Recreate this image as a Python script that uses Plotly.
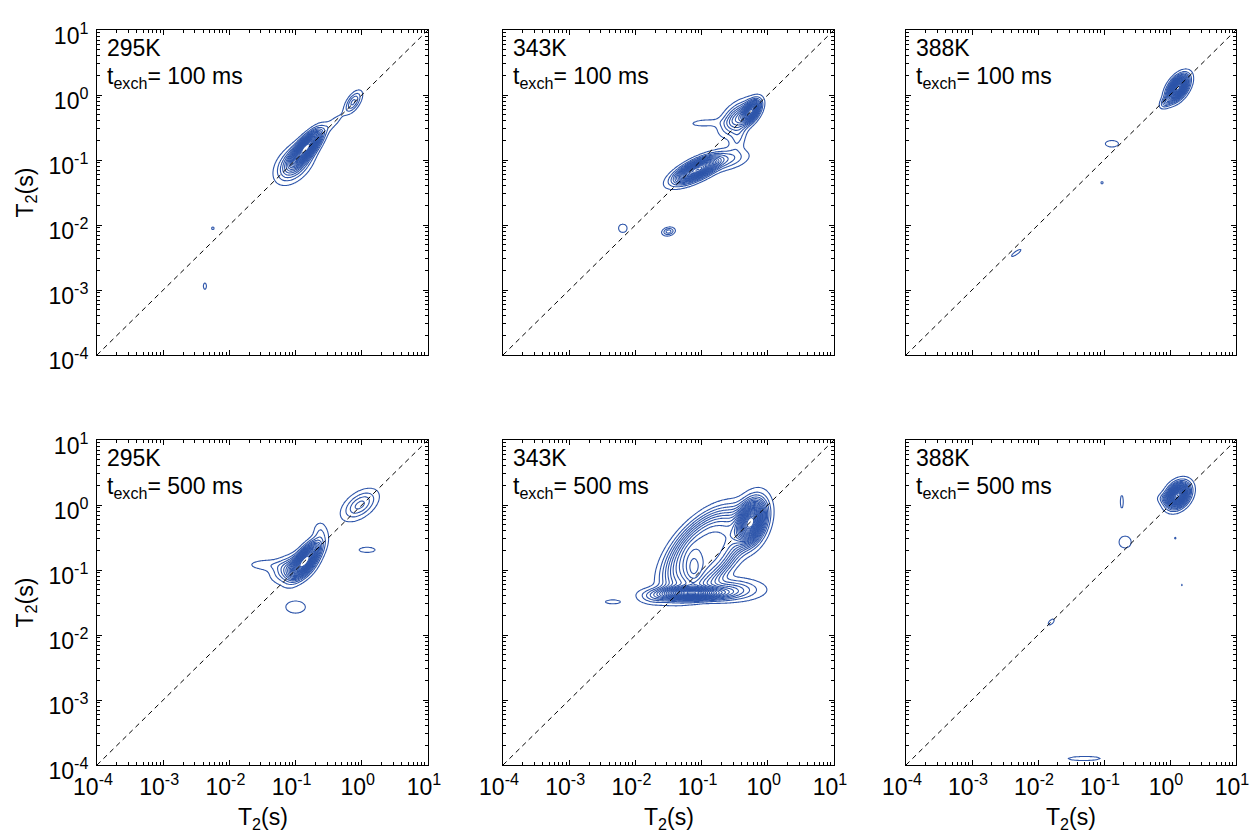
import numpy as np
import plotly.graph_objects as go

# ---------------------------------------------------------------------------
# Panel captions
TEMPERATURES = ["295K", "343K", "388K", "295K", "343K", "388K"]
EXCHANGE_TIMES = ["100 ms", "100 ms", "100 ms", "500 ms", "500 ms", "500 ms"]

# Axis ticks (seconds)
DECADES = [1e-4, 1e-3, 1e-2, 1e-1, 1e0, 1e1]
DECADE_LABELS = ["10<sup>-4</sup>", "10<sup>-3</sup>", "10<sup>-2</sup>",
                 "10<sup>-1</sup>", "10<sup>0</sup>", "10<sup>1</sup>"]
MINOR_STEPS = [2, 3, 4, 5, 6, 7, 8, 9]

# T2-T2 exchange map components, one list per panel:
# (log10 T2 axis-1, log10 T2 axis-2, amplitude, width-1, width-2, correlation, flatness)
PEAKS_295K_100MS = [
    (-0.83, -0.80, 1.00, 0.13, 0.15, 0.75, 1),
    (-1.02, -1.05, 0.30, 0.16, 0.17, 0.45, 1),
    (-0.13, -0.11, 0.20, 0.08, 0.105, 0.60, 1),
    (-0.42, -0.42, 0.06, 0.10, 0.10, 0.80, 1),
    (-2.25, -2.05, 0.05, 0.03, 0.03, 0.0, 1),
    (-2.37, -2.94, 0.055, 0.03, 0.06, 0.0, 1),
]
PEAKS_343K_100MS = [
    (-0.25, -0.25, 0.85, 0.08, 0.10, 0.50, 1),
    (-0.45, -0.35, 0.35, 0.15, 0.15, 0.50, 1),
    (-1.07, -1.15, 1.00, 0.20, 0.12, 0.70, 1),
    (-0.60, -1.00, 0.14, 0.20, 0.10, 0.40, 1),
    (-0.45, -0.65, 0.10, 0.08, 0.15, 0.30, 1),
    (-0.95, -0.43, 0.06, 0.20, 0.05, 0.20, 1),
    (-2.19, -2.05, 0.055, 0.08, 0.08, 0.0, 1),
    (-1.50, -2.10, 0.18, 0.06, 0.04, 0.20, 1),
]
PEAKS_388K_100MS = [
    (0.12, 0.11, 1.00, 0.09, 0.11, 0.50, 1),
    (-0.05, -0.10, 0.15, 0.06, 0.06, 0.50, 1),
    (-0.88, -0.75, 0.045, 0.11, 0.055, 0.0, 1),
    (-1.03, -1.35, 0.036, 0.03, 0.03, 0.0, 1),
    (-2.33, -2.43, 0.045, 0.08, 0.06, 0.85, 1),
]
PEAKS_295K_500MS = [
    (-0.84, -0.84, 1.00, 0.13, 0.16, 0.70, 1),
    (-1.05, -0.98, 0.30, 0.17, 0.12, 0.30, 1),
    (-1.45, -0.92, 0.07, 0.20, 0.06, 0.0, 1),
    (-0.63, -0.40, 0.08, 0.07, 0.10, 0.0, 1),
    (-0.03, 0.00, 0.22, 0.16, 0.14, 0.50, 1),
    (0.08, -0.69, 0.05, 0.18, 0.06, 0.0, 1),
    (-1.00, -1.57, 0.05, 0.22, 0.14, 0.0, 1),
]
PEAKS_343K_500MS = [
    (-0.25, -0.26, 1.00, 0.13, 0.20, 0.30, 1),
    (-1.15, -1.36, 0.70, 0.30, 0.06, 0.0, 1),
    (-0.95, -0.72, 0.45, 0.42, 0.45, 0.55, 2),
    (-1.12, -1.00, 0.10, 0.09, 0.20, 0.0, 1),
    (-0.60, -1.30, 0.20, 0.30, 0.10, 0.0, 1),
    (-1.72, -1.42, 0.10, 0.15, 0.07, 0.0, 1),
    (-2.34, -1.49, 0.04, 0.15, 0.04, 0.0, 1),
]
PEAKS_388K_500MS = [
    (0.12, 0.15, 1.00, 0.10, 0.11, 0.30, 1),
    (-0.05, 0.10, 0.10, 0.08, 0.05, 0.0, 1),
    (-0.73, 0.05, 0.04, 0.03, 0.13, 0.0, 1),
    (-0.68, -0.57, 0.05, 0.09, 0.09, 0.0, 1),
    (0.08, -0.51, 0.034, 0.03, 0.03, 0.0, 1),
    (0.18, -1.23, 0.033, 0.025, 0.025, 0.0, 1),
    (-1.80, -1.80, 0.04, 0.06, 0.06, 0.60, 1),
    (-1.30, -3.90, 0.045, 0.27, 0.035, 0.05, 1),
]
PANEL_PEAKS = [PEAKS_295K_100MS, PEAKS_343K_100MS, PEAKS_388K_100MS,
               PEAKS_295K_500MS, PEAKS_343K_500MS, PEAKS_388K_500MS]

# Lowest contour level and number of levels per panel
LEVEL_FLOOR = [0.04, 0.04, 0.03, 0.04, 0.03, 0.03]
LEVEL_COUNT = [20, 18, 22, 18, 22, 22]

# ---------------------------------------------------------------------------
LINE_BLUE = "#2d55aa"
FONT = "Liberation Sans, Arial, sans-serif"
FIG_W, FIG_H = 1260, 834
PANEL_W, PANEL_H = 331, 325

LOG_GRID = np.linspace(-4.0, 1.0, 251)
T2_GRID = 10.0 ** LOG_GRID
MINOR_TICKS = [m * d for d in DECADES[:-1] for m in MINOR_STEPS]


def distribution(peaks):
    gx, gy = np.meshgrid(LOG_GRID, LOG_GRID)
    z = np.zeros_like(gx)
    for cx, cy, amp, sx, sy, rho, flat in peaks:
        dx = (gx - cx) / sx
        dy = (gy - cy) / sy
        q = (dx * dx - 2 * rho * dx * dy + dy * dy) / (1 - rho * rho)
        z += amp * np.exp(-((q / 2.0) ** flat))
    return np.round(z, 4)


X_DOMAINS = [[97 / FIG_W, 428 / FIG_W], [503 / FIG_W, 834 / FIG_W], [906 / FIG_W, 1236 / FIG_W]]
Y_DOMAINS = [[1 - 355 / FIG_H, 1 - 30 / FIG_H], [1 - 765 / FIG_H, 1 - 440 / FIG_H]]

fig = go.Figure()
annotations = []

for i, peaks in enumerate(PANEL_PEAKS):
    row, col = divmod(i, 3)
    xa = "x" if i == 0 else f"x{i + 1}"
    ya = "y" if i == 0 else f"y{i + 1}"
    floor = LEVEL_FLOOR[i]
    step = (1.0 - floor) / LEVEL_COUNT[i]

    fig.add_trace(go.Contour(
        x=T2_GRID, y=T2_GRID, z=distribution(peaks),
        xaxis=xa, yaxis=ya,
        contours=dict(coloring="lines", start=floor, end=1.0, size=step),
        line=dict(width=1.1, smoothing=0.6),
        colorscale=[[0, LINE_BLUE], [1, LINE_BLUE]],
        showscale=False, hoverinfo="skip",
    ))
    fig.add_trace(go.Scatter(
        x=[DECADES[0], DECADES[-1]], y=[DECADES[0], DECADES[-1]],
        xaxis=xa, yaxis=ya, mode="lines",
        line=dict(color="black", width=1, dash="5px,4px"),
        hoverinfo="skip", showlegend=False,
    ))

    common = dict(
        type="log", range=[-4, 1], showgrid=False, zeroline=False,
        showline=True, linecolor="black", linewidth=1, mirror="allticks",
        ticks="inside", ticklen=5, tickwidth=1, tickcolor="black",
        tickmode="array", tickvals=DECADES, ticktext=DECADE_LABELS,
        minor=dict(tickmode="array", tickvals=MINOR_TICKS, ticks="inside",
                   ticklen=3, tickwidth=0.8, tickcolor="black", showgrid=False),
        tickfont=dict(family=FONT, size=23, color="black"),
        automargin=False, fixedrange=True,
    )
    key_x = "xaxis" if i == 0 else f"xaxis{i + 1}"
    key_y = "yaxis" if i == 0 else f"yaxis{i + 1}"
    fig.layout[key_x] = dict(common, domain=X_DOMAINS[col], anchor=ya,
                             showticklabels=(row == 1),
                             ticklabelstandoff=1, ticklabelshift=-4)
    fig.layout[key_y] = dict(common, domain=Y_DOMAINS[row], anchor=xa,
                             showticklabels=(col == 0),
                             ticklabelstandoff=3, ticklabelshift=6)

    # Two-line caption in the upper-left corner of each panel
    annotations.append(dict(
        xref=f"{xa} domain", yref=f"{ya} domain",
        x=8 / PANEL_W, y=1 - 17.5 / PANEL_H,
        xanchor="left", yanchor="middle", showarrow=False,
        text=TEMPERATURES[i],
        font=dict(family=FONT, size=23, color="black"),
    ))
    annotations.append(dict(
        xref=f"{xa} domain", yref=f"{ya} domain",
        x=8 / PANEL_W, y=1 - 47 / PANEL_H,
        xanchor="left", yanchor="middle", showarrow=False,
        text=f"t<sub>exch</sub>= {EXCHANGE_TIMES[i]}",
        font=dict(family=FONT, size=23, color="black"),
    ))

# Axis titles
for r in range(2):
    yc = sum(Y_DOMAINS[r]) / 2
    annotations.append(dict(
        xref="paper", yref="paper", x=26 / FIG_W, y=yc, textangle=-90,
        xanchor="center", yanchor="middle", showarrow=False,
        text="T<sub>2</sub>(s)", font=dict(family=FONT, size=23, color="black"),
    ))
for c in range(3):
    xc = sum(X_DOMAINS[c]) / 2
    annotations.append(dict(
        xref="paper", yref="paper", x=xc, y=1 - 818 / FIG_H,
        xanchor="center", yanchor="middle", showarrow=False,
        text="T<sub>2</sub>(s)", font=dict(family=FONT, size=23, color="black"),
    ))

fig.update_layout(
    width=FIG_W, height=FIG_H, autosize=False,
    margin=dict(l=0, r=0, t=0, b=0, pad=0, autoexpand=False),
    paper_bgcolor="white", plot_bgcolor="white",
    showlegend=False, annotations=annotations,
    font=dict(family=FONT, color="black"),
)

fig.write_html("out.html", include_plotlyjs=True)
